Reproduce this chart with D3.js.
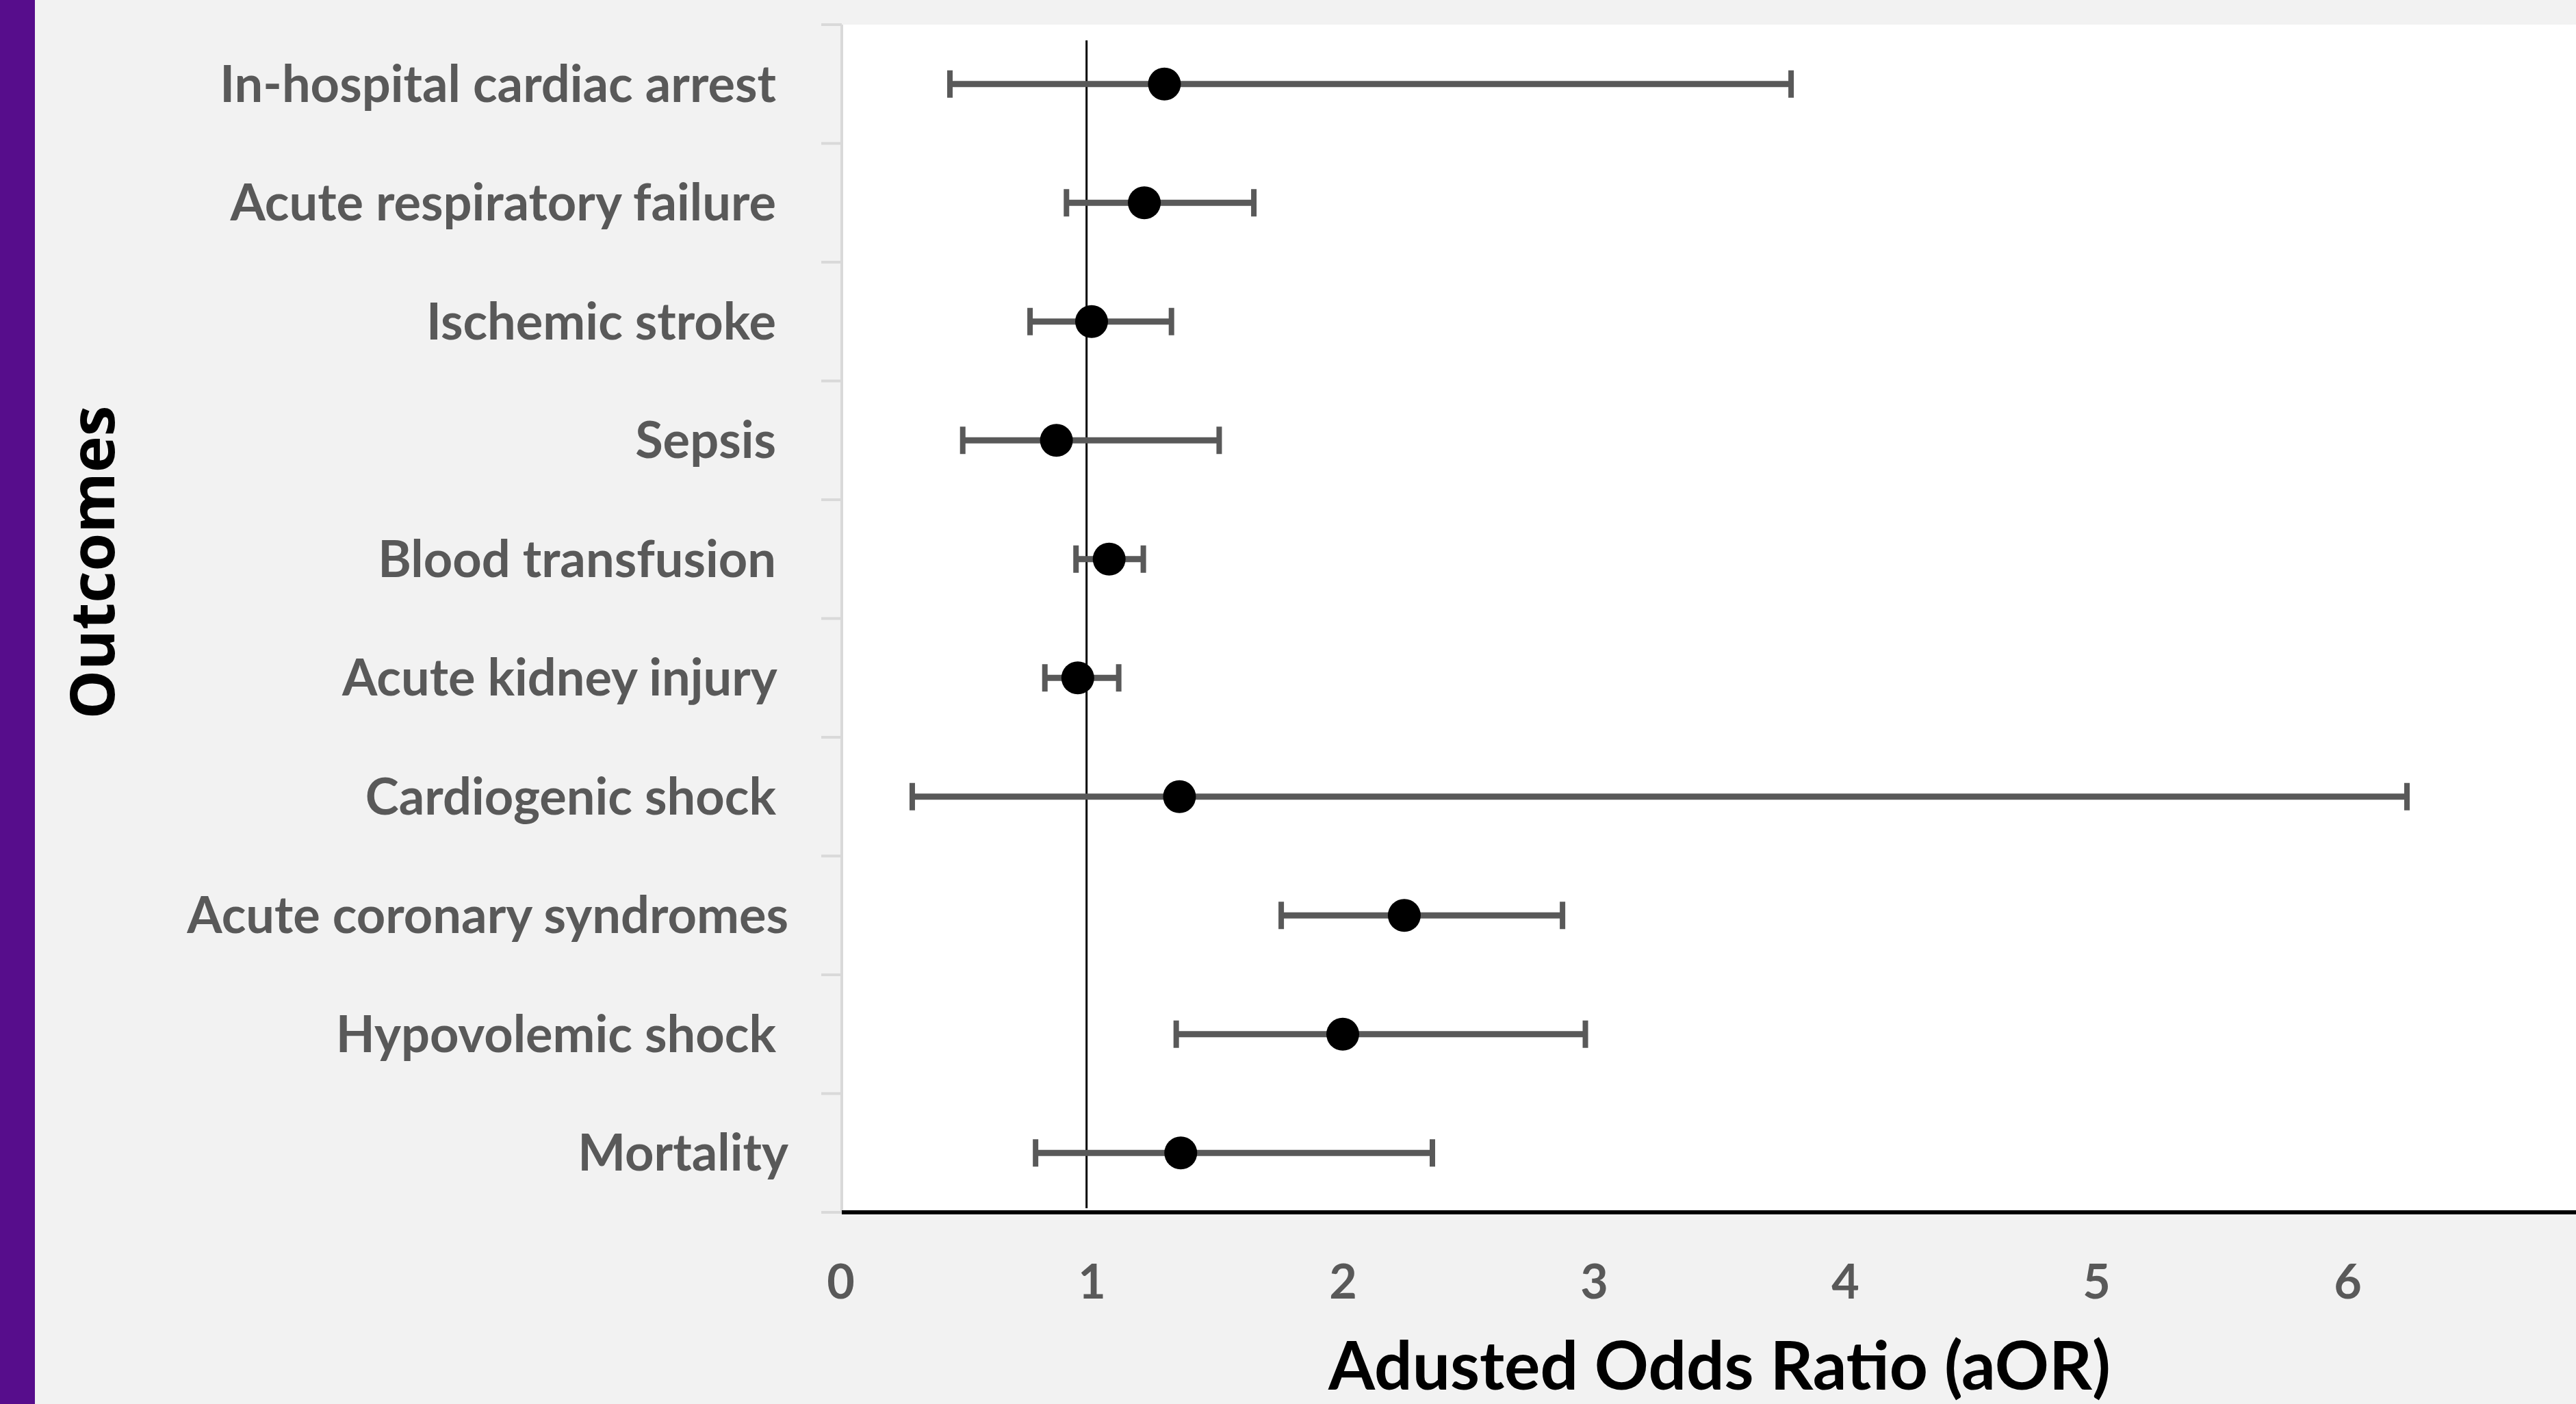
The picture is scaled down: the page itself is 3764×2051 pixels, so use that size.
<!DOCTYPE html>
<html>
<head>
<meta charset="utf-8">
<script src="https://cdn.jsdelivr.net/npm/d3@7"></script>
<style>
  body { margin: 0; background: #f2f2f2; }
  svg { display: block; }
  .ylab text { white-space: pre; }
</style>
</head>
<body>
<div id="forest"></div>
<script>
// Data
const outcomes = [
  'In-hospital cardiac arrest ',
  'Acute respiratory failure ',
  'Ischemic stroke ',
  'Sepsis ',
  'Blood transfusion ',
  'Acute kidney injury ',
  'Cardiogenic shock ',
  'Acute coronary syndromes',
  'Hypovolemic shock ',
  'Mortality'
];
const aor    = [1.29, 1.21, 1.00, 0.86, 1.07, 0.945, 1.35, 2.245, 2.00, 1.355];
const ciLow  = [0.436, 0.90, 0.755, 0.487, 0.938, 0.814, 0.286, 1.755, 1.337, 0.777];
const ciHigh = [3.785, 1.646, 1.318, 1.508, 1.206, 1.108, 6.237, 2.875, 2.966, 2.357];
const xTicks = [0, 1, 2, 3, 4, 5, 6];
const refValue = 0.98;

const rows = outcomes.map((name, i) => ({name, aor: aor[i], lo: ciLow[i], hi: ciHigh[i]}));

// Dimensions
const W = 3764, H = 2051;
const plot = {left: 1230, top: 36, bottom: 1771};
const gray = '#595959';
const font = 'Lato, "Open Sans", sans-serif';

const svg = d3.select('#forest')
  .append('svg')
  .attr('width', W)
  .attr('height', H);

// Scales
const x = d3.scaleLinear()
  .domain([0, 7])
  .range([1228, 1228 + 7 * 367]);

const y = d3.scaleBand()
  .domain(outcomes)
  .range([plot.top, plot.bottom])
  .paddingInner(0);

// Purple strip on the left
svg.append('rect')
  .attr('x', 0).attr('y', 0)
  .attr('width', 51).attr('height', H)
  .attr('fill', '#570d8c');

// Plot area
svg.append('rect')
  .attr('x', plot.left)
  .attr('y', plot.top)
  .attr('width', W - plot.left)
  .attr('height', plot.bottom - plot.top)
  .attr('fill', '#ffffff');

// y axis line + boundary ticks
svg.append('line')
  .attr('x1', plot.left).attr('x2', plot.left)
  .attr('y1', plot.top).attr('y2', plot.bottom)
  .attr('stroke', '#d9d9d9').attr('stroke-width', 4);

const bounds = outcomes.map(d => y(d)).concat([y.range()[1]]);
svg.selectAll('.ytick')
  .data(bounds)
  .enter()
  .append('line')
  .attr('x1', plot.left - 30).attr('x2', plot.left)
  .attr('y1', d => d).attr('y2', d => d)
  .attr('stroke', '#d9d9d9').attr('stroke-width', 4);

// y labels (axisLeft already centres them in each band)
const yAxis = svg.append('g')
  .attr('class', 'ylab')
  .attr('transform', `translate(${plot.left},0)`)
  .call(d3.axisLeft(y).tickSize(0).tickPadding(78));
yAxis.select('.domain').remove();
yAxis.selectAll('text')
  .attr('x', -78)
  .attr('dy', null)
  .attr('y', 26)
  .attr('fill', gray)
  .style('font-family', font)
  .style('font-weight', 700)
  .style('font-size', '74px');

// Reference line
svg.append('line')
  .attr('x1', x(refValue)).attr('x2', x(refValue))
  .attr('y1', plot.top + 23).attr('y2', plot.bottom - 6)
  .attr('stroke', '#000').attr('stroke-width', 3);

// Error bars
const bars = svg.selectAll('.ci')
  .data(rows)
  .enter()
  .append('g')
  .attr('transform', d => `translate(0,${y(d.name) + y.bandwidth() / 2})`);

bars.append('line')
  .attr('x1', d => x(d.lo)).attr('x2', d => x(d.hi))
  .attr('y1', 0).attr('y2', 0)
  .attr('stroke', gray).attr('stroke-width', 9);

bars.selectAll('.cap')
  .data(d => [d.lo, d.hi])
  .enter()
  .append('line')
  .attr('x1', v => x(v)).attr('x2', v => x(v))
  .attr('y1', -20).attr('y2', 20)
  .attr('stroke', gray).attr('stroke-width', 8);

bars.append('circle')
  .attr('cx', d => x(d.aor))
  .attr('cy', 0)
  .attr('r', 24)
  .attr('fill', '#000');

// x axis
svg.append('line')
  .attr('x1', plot.left).attr('x2', W)
  .attr('y1', plot.bottom).attr('y2', plot.bottom)
  .attr('stroke', '#000').attr('stroke-width', 6);

const xAxis = svg.append('g')
  .attr('transform', `translate(0,${plot.bottom})`)
  .call(d3.axisBottom(x).tickValues(xTicks).tickSize(0).tickPadding(0).tickFormat(d3.format('d')));
xAxis.select('.domain').remove();
xAxis.selectAll('text')
  .attr('dy', null)
  .attr('y', 126)
  .attr('fill', gray)
  .style('font-family', font)
  .style('font-weight', 700)
  .style('font-size', '70px');

// Axis titles
svg.append('text')
  .attr('x', (x.range()[0] + x.range()[1]) / 2)
  .attr('y', 2030)
  .attr('text-anchor', 'middle')
  .attr('fill', '#000')
  .style('font-family', font)
  .style('font-weight', 700)
  .style('font-size', '98px')
  .text('Adusted Odds Ratio (aOR)');

svg.append('text')
  .attr('transform', `translate(167,${(plot.top + plot.bottom) / 2 - 82}) rotate(-90)`)
  .attr('text-anchor', 'middle')
  .attr('fill', '#000')
  .style('font-family', '"Open Sans", sans-serif')
  .style('font-weight', 700)
  .style('font-size', '90px')
  .text('Outcomes');
</script>
</body>
</html>
